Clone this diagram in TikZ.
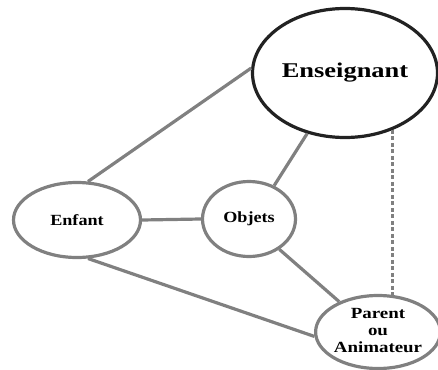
\documentclass[tikz,border=0pt]{standalone}
\usepackage{fontspec}
\setmainfont{Liberation Serif}
\usetikzlibrary{shapes.geometric}
\definecolor{linkgray}{HTML}{808080}
\definecolor{darkrim}{HTML}{222222}
\tikzset{
  actor/.style={ellipse, draw=linkgray, line width=3.2pt, inner sep=0pt,
    font=\bfseries\fontsize{15.5}{17}\selectfont},
  link/.style={draw=linkgray, line width=3.2pt},
  weaklink/.style={link, dash pattern=on 4pt off 2.5pt}
}
\begin{document}
\begin{tikzpicture}[x=1pt,y=-1pt]
  \useasboundingbox (0,0) rectangle (438,369);
  % the four actors
  \node[actor, draw=darkrim, line width=3.2pt, minimum width=185pt, minimum height=129pt,
        font=\bfseries\fontsize{21}{24}\selectfont]
        (ens) at (345,73) {\scalebox{1.26}[1]{Enseignant}};
  \node[actor, minimum width=127pt, minimum height=75pt]
        (enf) at (77,220) {\scalebox{1.17}[1]{Enfant}};
  \node[actor, minimum width=93pt, minimum height=75pt]
        (obj) at (249,219) {\scalebox{1.17}[1]{Objets}};
  \node[actor, minimum width=121pt, minimum height=73pt]
        (par) at (378,332) {\scalebox{1.22}[1]{\begin{tabular}{@{}c@{}}Parent\\ou\\Animateur\end{tabular}}};
  % relations
  \draw[link] (enf.74) -- (ens.177);
  \draw[link] (enf.0) -- (obj.180);
  \draw[link] (obj.53) -- (ens.238);
  \draw[link] (obj.315) -- (par.142);
  \draw[link] (enf.286) -- (par.184);
  \draw[weaklink] (ens.310) -- (ens.310 |- par.70);
\end{tikzpicture}
\end{document}
